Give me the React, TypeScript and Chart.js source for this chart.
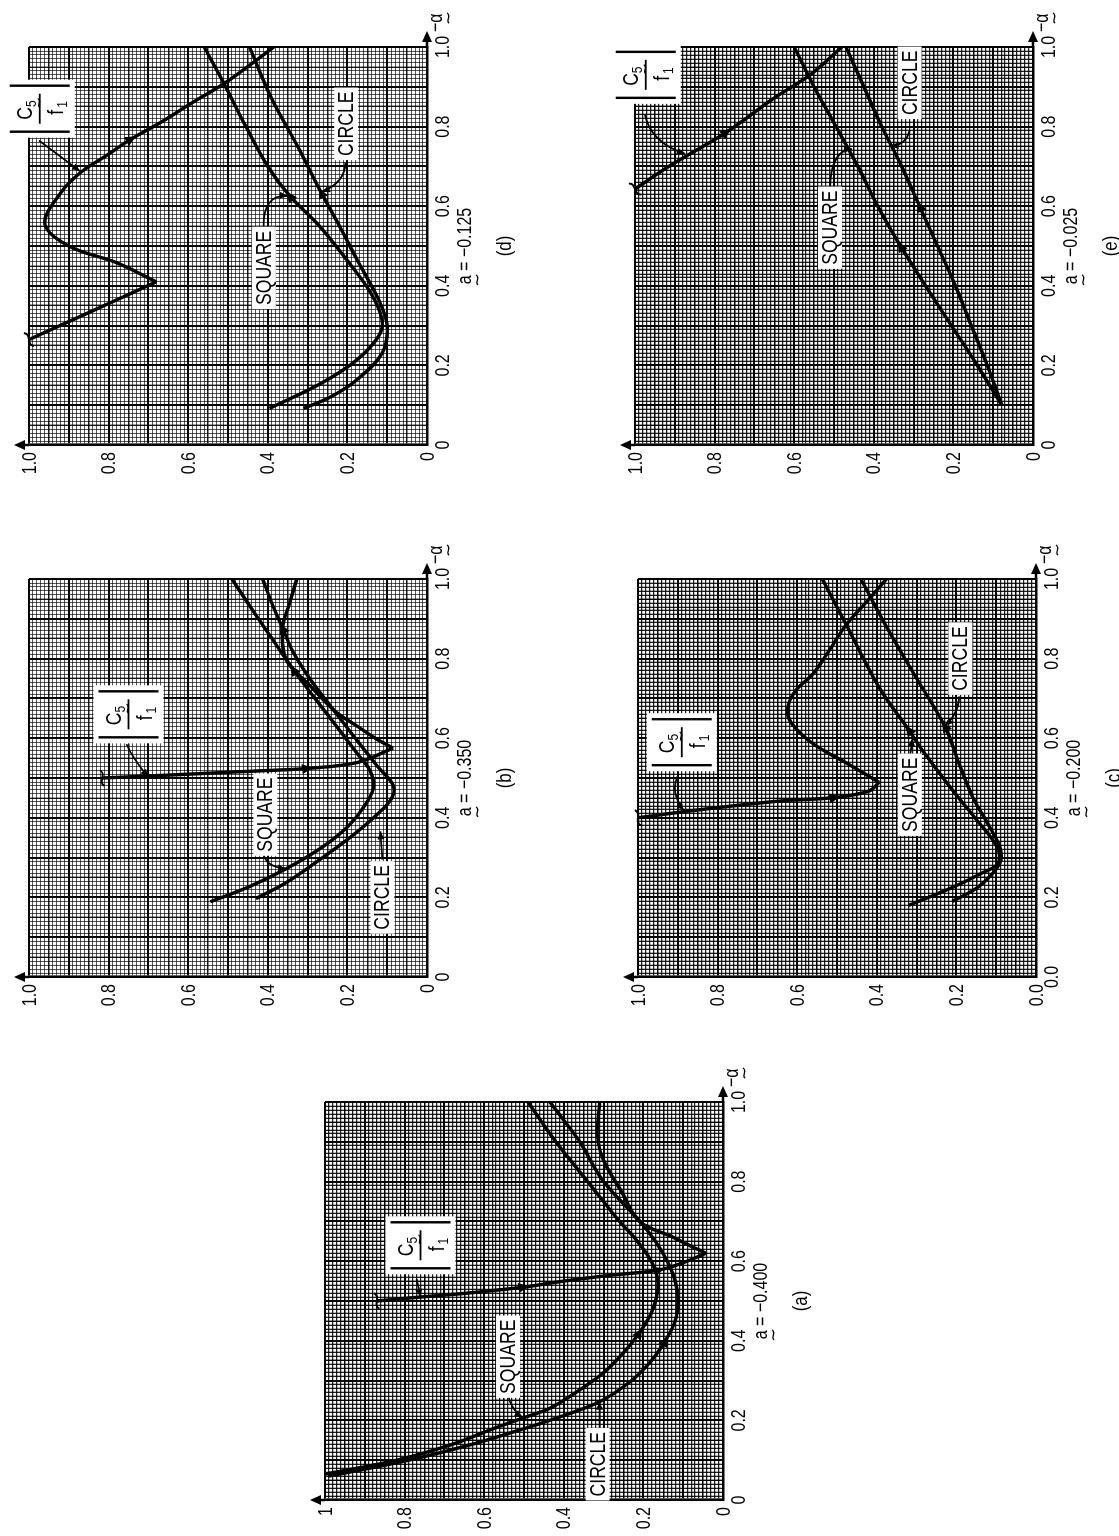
import React, { useEffect, useRef } from 'react';
import { Chart, registerables } from 'chart.js';

Chart.register(...registerables);

type Pt = [number, number]; // [alpha, value]

// ---------------- tick labels ----------------
const ALPHA_TICKS = ['0', '0.2', '0.4', '0.6', '0.8', '1.0'];
const ALPHA_TICKS_C = ['0.0', '0.2', '0.4', '0.6', '0.8', '1.0'];
const VALUE_TICKS = ['0', '0.2', '0.4', '0.6', '0.8', '1.0'];
const VALUE_TICKS_A = ['0', '0.2', '0.4', '0.6', '0.8', '1'];
const VALUE_TICKS_C = ['0.0', '0.2', '0.4', '0.6', '0.8', '1.0'];

// ---------------- panel (a)  a = -0.400 ----------------
const A_SQUARE: Pt[] = [[0.065, 1.0], [0.1, 0.82], [0.14, 0.68], [0.18, 0.575], [0.207, 0.5], [0.23, 0.436], [0.27, 0.37], [0.32, 0.3], [0.37, 0.25], [0.42, 0.21], [0.47, 0.18], [0.52, 0.165], [0.56, 0.165], [0.6, 0.18], [0.65, 0.215], [0.7, 0.26], [0.8, 0.34], [0.9, 0.42], [1.0, 0.49]];
const A_CIRCLE: Pt[] = [[0.06, 0.99], [0.1, 0.79], [0.14, 0.63], [0.17, 0.53], [0.2, 0.436], [0.247, 0.31], [0.3, 0.23], [0.35, 0.18], [0.4, 0.145], [0.45, 0.12], [0.5, 0.113], [0.55, 0.12], [0.6, 0.14], [0.65, 0.17], [0.705, 0.213], [0.8, 0.3], [0.9, 0.36], [0.967, 0.41], [1.0, 0.435]];
const A_C5_IN: Pt[] = [[0.5, 0.87], [0.51, 0.76], [0.52, 0.64], [0.535, 0.5], [0.55, 0.4], [0.565, 0.28], [0.578, 0.16], [0.6, 0.09], [0.62, 0.043]];
const A_C5_OUT: Pt[] = [[0.62, 0.043], [0.64, 0.085], [0.66, 0.125], [0.7, 0.21], [0.775, 0.255], [0.853, 0.3], [0.914, 0.315], [1.0, 0.31]];

// ---------------- panel (b)  a = -0.350 ----------------
const B_SQUARE: Pt[] = [[0.189, 0.544], [0.228, 0.444], [0.272, 0.354], [0.325, 0.265], [0.377, 0.2], [0.43, 0.157], [0.474, 0.135], [0.518, 0.143], [0.561, 0.175], [0.632, 0.229], [0.702, 0.283], [0.772, 0.336], [0.851, 0.39], [0.93, 0.444], [1.0, 0.49]];
const B_CIRCLE: Pt[] = [[0.197, 0.43], [0.237, 0.354], [0.298, 0.265], [0.351, 0.193], [0.404, 0.13], [0.447, 0.09], [0.482, 0.085], [0.53, 0.125], [0.605, 0.184], [0.675, 0.238], [0.746, 0.292], [0.816, 0.336], [0.877, 0.363], [0.94, 0.39], [1.0, 0.413]];
const B_C5_IN: Pt[] = [[0.5, 0.816], [0.505, 0.7], [0.512, 0.55], [0.518, 0.42], [0.524, 0.3], [0.539, 0.175], [0.575, 0.085]];
const B_C5_OUT: Pt[] = [[0.575, 0.085], [0.6, 0.13], [0.63, 0.175], [0.667, 0.23], [0.728, 0.29], [0.798, 0.354], [0.877, 0.363], [0.94, 0.345], [1.0, 0.327]];

// ---------------- panel (c)  a = -0.200 ----------------
const C_SQUARE: Pt[] = [[0.18, 0.32], [0.225, 0.21], [0.26, 0.138], [0.286, 0.095], [0.33, 0.1], [0.392, 0.147], [0.47, 0.21], [0.568, 0.284], [0.621, 0.32], [0.727, 0.394], [0.885, 0.477], [1.0, 0.537]];
const C_CIRCLE: Pt[] = [[0.19, 0.21], [0.225, 0.147], [0.265, 0.105], [0.295, 0.088], [0.33, 0.092], [0.383, 0.12], [0.454, 0.16], [0.54, 0.195], [0.63, 0.229], [0.75, 0.3], [0.87, 0.37], [1.0, 0.44]];
const C_C5_IN: Pt[] = [[0.4, 1.0], [0.416, 0.88], [0.432, 0.743], [0.443, 0.633], [0.451, 0.505], [0.467, 0.42], [0.489, 0.394]];
const C_C5_OUT: Pt[] = [[0.489, 0.394], [0.533, 0.468], [0.586, 0.56], [0.639, 0.615], [0.674, 0.624], [0.718, 0.605], [0.762, 0.56], [0.82, 0.52], [0.885, 0.477], [0.947, 0.422], [1.0, 0.376]];

// ---------------- panel (d)  a = -0.125 ----------------
const D_SQUARE: Pt[] = [[0.092, 0.396], [0.155, 0.266], [0.214, 0.176], [0.273, 0.122], [0.315, 0.113], [0.38, 0.14], [0.45, 0.19], [0.55, 0.27], [0.626, 0.345], [0.7, 0.4], [0.8, 0.455], [0.908, 0.51], [1.0, 0.56]];
const D_CIRCLE: Pt[] = [[0.092, 0.31], [0.122, 0.24], [0.164, 0.176], [0.23, 0.113], [0.3, 0.1], [0.366, 0.122], [0.466, 0.176], [0.55, 0.22], [0.634, 0.266], [0.75, 0.325], [0.87, 0.39], [1.0, 0.446]];
const D_C5_IN: Pt[] = [[0.265, 1.0], [0.31, 0.9], [0.36, 0.79], [0.41, 0.68]];
const D_C5_OUT: Pt[] = [[0.41, 0.68], [0.458, 0.78], [0.5, 0.9], [0.555, 0.96], [0.634, 0.92], [0.685, 0.87], [0.727, 0.806], [0.769, 0.743], [0.81, 0.67], [0.86, 0.59], [0.908, 0.51], [0.954, 0.446], [1.0, 0.385]];

// ---------------- panel (e)  a = -0.025 ----------------
const E_SQUARE: Pt[] = [[0.1, 0.078], [0.2, 0.14], [0.3, 0.205], [0.4, 0.27], [0.5, 0.333], [0.6, 0.39], [0.7, 0.44], [0.8, 0.495], [0.9, 0.55], [1.0, 0.6]];
const E_CIRCLE: Pt[] = [[0.1, 0.078], [0.2, 0.115], [0.3, 0.155], [0.4, 0.195], [0.5, 0.24], [0.6, 0.285], [0.7, 0.33], [0.8, 0.38], [0.9, 0.425], [1.0, 0.47]];
const E_C5: Pt[] = [[0.643, 1.0], [0.7, 0.915], [0.786, 0.77], [0.87, 0.653], [0.93, 0.56], [1.0, 0.48]];

// ---------------- captions ----------------
const A_VALUES = ['−0.400', '−0.350', '−0.200', '−0.125', '−0.025'];
const PANEL_TAGS = ['(a)', '(b)', '(c)', '(d)', '(e)'];

// ---------------- layout ----------------
const FONT = "'Liberation Sans', Arial, Helvetica, sans-serif";
const SX = 0.8; // horizontal compression, to mimic a condensed face
const PLOT = 398;
const PAD_L = 8;
const Y_W = 42;
const PAD_T = 36;
const PAD_R = 60;
const X_H = 100;
const CW = PAD_L + Y_W + PLOT + PAD_R;
const CH = PAD_T + PLOT + X_H;
const FINE_TICKS = Array.from({ length: 101 }, (_, i) => i / 100);

type Tone = 'light' | 'dark';
interface Box { kind: 'text' | 'c5'; text?: string; at: Pt }
interface Leader { pts: Pt[] }
interface Arrow { at: Pt; toward: Pt }
interface PanelCfg {
  id: string; left: number; top: number; caption: string; tag: string;
  alphaLabels: string[]; valueLabels: string[]; tone: Tone;
  curves: Pt[][]; breaks: Pt[][]; boxes: Box[]; leaders: Leader[]; arrows: Arrow[];
}

const PANELS: PanelCfg[] = [
  {
    id: 'a', left: 36, top: 325, caption: A_VALUES[0], tag: PANEL_TAGS[0],
    alphaLabels: ALPHA_TICKS, valueLabels: VALUE_TICKS_A, tone: 'dark',
    curves: [A_SQUARE, A_CIRCLE, A_C5_IN, A_C5_OUT],
    breaks: [[A_C5_IN[0], A_C5_IN[1]]],
    boxes: [
      { kind: 'c5', at: [0.64, 0.76] },
      { kind: 'text', text: 'SQUARE', at: [0.36, 0.54] },
      { kind: 'text', text: 'CIRCLE', at: [0.09, 0.315] },
    ],
    leaders: [
      { pts: [[0.555, 0.77], [0.51, 0.76]] },
      { pts: [[0.265, 0.54], [0.23, 0.535], [0.207, 0.504]] },
      { pts: [[0.18, 0.31], [0.247, 0.31]] },
    ],
    arrows: [
      { at: A_C5_IN[3], toward: A_C5_IN[4] },
      { at: A_C5_IN[6], toward: A_C5_IN[7] },
      { at: A_CIRCLE[8], toward: A_CIRCLE[9] },
      { at: A_SQUARE[9], toward: A_SQUARE[10] },
    ],
  },
  {
    id: 'b', left: 559, top: 29, caption: A_VALUES[1], tag: PANEL_TAGS[1],
    alphaLabels: ALPHA_TICKS, valueLabels: VALUE_TICKS, tone: 'light',
    curves: [B_SQUARE, B_CIRCLE, B_C5_IN, B_C5_OUT],
    breaks: [[B_C5_IN[0], B_C5_IN[1]]],
    boxes: [
      { kind: 'c5', at: [0.66, 0.75] },
      { kind: 'text', text: 'SQUARE', at: [0.408, 0.406] },
      { kind: 'text', text: 'CIRCLE', at: [0.2, 0.112] },
    ],
    leaders: [
      { pts: [[0.585, 0.755], [0.55, 0.74], [0.502, 0.7]] },
      { pts: [[0.312, 0.41], [0.278, 0.41], [0.272, 0.354]] },
      { pts: [[0.295, 0.112], [0.366, 0.117]] },
    ],
    arrows: [
      { at: B_C5_IN[4], toward: B_C5_IN[5] },
      { at: B_CIRCLE[12], toward: B_CIRCLE[13] },
      { at: B_SQUARE[11], toward: B_SQUARE[12] },
    ],
  },
  {
    id: 'c', left: 559, top: 638, caption: A_VALUES[2], tag: PANEL_TAGS[2],
    alphaLabels: ALPHA_TICKS_C, valueLabels: VALUE_TICKS_C, tone: 'dark',
    curves: [C_SQUARE, C_CIRCLE, C_C5_IN, C_C5_OUT],
    breaks: [[C_C5_IN[0], C_C5_IN[1]]],
    boxes: [
      { kind: 'c5', at: [0.59, 0.89] },
      { kind: 'text', text: 'SQUARE', at: [0.458, 0.317] },
      { kind: 'text', text: 'CIRCLE', at: [0.8, 0.19] },
    ],
    leaders: [
      { pts: [[0.505, 0.9], [0.465, 0.92], [0.418, 0.885]] },
      { pts: [[0.553, 0.317], [0.6, 0.31]] },
      { pts: [[0.705, 0.193], [0.66, 0.195], [0.632, 0.229]] },
    ],
    arrows: [
      { at: C_C5_IN[4], toward: C_C5_IN[5] },
      { at: C_SQUARE[8], toward: C_SQUARE[9] },
      { at: C_CIRCLE[8], toward: C_CIRCLE[9] },
    ],
  },
  {
    id: 'd', left: 1091, top: 29, caption: A_VALUES[3], tag: PANEL_TAGS[3],
    alphaLabels: ALPHA_TICKS, valueLabels: VALUE_TICKS, tone: 'light',
    curves: [D_SQUARE, D_CIRCLE, D_C5_IN, D_C5_OUT],
    breaks: [[D_C5_IN[0], D_C5_IN[1]]],
    boxes: [
      { kind: 'c5', at: [0.845, 0.973] },
      { kind: 'text', text: 'SQUARE', at: [0.445, 0.41] },
      { kind: 'text', text: 'CIRCLE', at: [0.807, 0.203] },
    ],
    leaders: [
      { pts: [[0.765, 0.975], [0.688, 0.872]] },
      { pts: [[0.54, 0.41], [0.63, 0.415], [0.626, 0.35]] },
      { pts: [[0.71, 0.205], [0.66, 0.205], [0.636, 0.264]] },
    ],
    arrows: [
      { at: D_C5_OUT[7], toward: D_C5_OUT[8] },
      { at: D_SQUARE[8], toward: D_SQUARE[9] },
      { at: D_CIRCLE[8], toward: D_CIRCLE[9] },
    ],
  },
  {
    id: 'e', left: 1091, top: 635, caption: A_VALUES[4], tag: PANEL_TAGS[4],
    alphaLabels: ALPHA_TICKS, valueLabels: VALUE_TICKS, tone: 'dark',
    curves: [E_SQUARE, E_CIRCLE, E_C5],
    breaks: [[E_C5[0], E_C5[1]]],
    boxes: [
      { kind: 'c5', at: [0.93, 0.973] },
      { kind: 'text', text: 'SQUARE', at: [0.546, 0.51] },
      { kind: 'text', text: 'CIRCLE', at: [0.91, 0.31] },
    ],
    leaders: [
      { pts: [[0.83, 0.975], [0.76, 0.96], [0.732, 0.875]] },
      { pts: [[0.64, 0.51], [0.74, 0.51], [0.744, 0.455]] },
      { pts: [[0.79, 0.31], [0.752, 0.32], [0.752, 0.358]] },
    ],
    arrows: [
      { at: E_C5[2], toward: E_C5[3] },
      { at: E_SQUARE[4], toward: E_SQUARE[5] },
      { at: E_CIRCLE[5], toward: E_CIRCLE[6] },
    ],
  },
];

// ---------------- drawing helpers ----------------
function gridColor(v: number, tone: Tone) {
  const i = Math.round((v ?? 0) * 100);
  if (i % 10 === 0) return '#000';
  if (i % 5 === 0) return tone === 'dark' ? '#000' : 'rgba(0,0,0,0.9)';
  return tone === 'dark' ? 'rgba(0,0,0,0.88)' : 'rgba(0,0,0,0.66)';
}
function gridWidth(v: number, tone: Tone) {
  const i = Math.round((v ?? 0) * 100);
  if (i % 10 === 0) return 2;
  if (i % 5 === 0) return 1.4;
  return tone === 'dark' ? 1.3 : 1.05;
}

// condensed text: measured in the normal face, drawn squeezed horizontally
function ctext(
  ctx: CanvasRenderingContext2D, s: string, x: number, y: number, size: number,
  align: 'left' | 'center' | 'right', baseline: CanvasTextBaseline,
) {
  ctx.save();
  ctx.font = `${size}px ${FONT}`;
  ctx.textAlign = 'left';
  ctx.textBaseline = baseline;
  const w = ctx.measureText(s).width * SX;
  const x0 = align === 'center' ? x - w / 2 : align === 'right' ? x - w : x;
  ctx.translate(x0, y);
  ctx.scale(SX, 1);
  ctx.fillText(s, 0, 0);
  ctx.restore();
  return { x0, w };
}
function cwidth(ctx: CanvasRenderingContext2D, s: string, size: number) {
  ctx.save();
  ctx.font = `${size}px ${FONT}`;
  const w = ctx.measureText(s).width * SX;
  ctx.restore();
  return w;
}

function arrowAt(ctx: CanvasRenderingContext2D, x: number, y: number, ang: number, len = 10, w = 4.5, tip = false) {
  ctx.save();
  ctx.translate(x, y);
  ctx.rotate(ang);
  const off = tip ? 0 : len / 2;
  ctx.beginPath();
  ctx.moveTo(off, 0);
  ctx.lineTo(off - len, -w);
  ctx.lineTo(off - len, w);
  ctx.closePath();
  ctx.fill();
  ctx.restore();
}

function tilde(ctx: CanvasRenderingContext2D, cx: number, cy: number, w: number) {
  ctx.save();
  ctx.lineWidth = 1.3;
  ctx.beginPath();
  ctx.moveTo(cx - w / 2, cy + 1);
  ctx.bezierCurveTo(cx - w / 5, cy - 3, cx + w / 5, cy + 4, cx + w / 2, cy - 1);
  ctx.stroke();
  ctx.restore();
}

function makeDecor(cfg: PanelCfg) {
  return {
    id: 'decor_' + cfg.id,
    afterDatasetsDraw(chart: any) {
      const { ctx, chartArea: ca, scales } = chart;
      const X = (a: number) => scales.x.getPixelForValue(a);
      const Y = (v: number) => scales.y.getPixelForValue(v);
      ctx.save();
      ctx.fillStyle = '#000';
      ctx.strokeStyle = '#000';

      // tick labels (condensed), placed through the scales
      cfg.alphaLabels.forEach((t, k) => ctext(ctx, t, X(k * 0.2), ca.bottom + 6, 20, 'center', 'top'));
      cfg.valueLabels.forEach((t, k) => ctext(ctx, t, ca.left - 7, Y(k * 0.2) + 1, 20, 'right', 'middle'));

      // break marks at C5 entry
      for (const [p, q] of cfg.breaks) {
        const ang = Math.atan2(Y(q[1]) - Y(p[1]), X(q[0]) - X(p[0]));
        ctx.save();
        ctx.translate(X(p[0]), Y(p[1]));
        ctx.rotate(ang);
        ctx.lineWidth = 2;
        ctx.beginPath();
        ctx.moveTo(-2, -8);
        ctx.bezierCurveTo(5, -4, -5, 4, 2, 8);
        ctx.stroke();
        ctx.restore();
      }

      // direction arrows on curves
      for (const a of cfg.arrows) {
        const ang = Math.atan2(Y(a.toward[1]) - Y(a.at[1]), X(a.toward[0]) - X(a.at[0]));
        arrowAt(ctx, X(a.at[0]), Y(a.at[1]), ang, 11, 5);
      }

      // leader lines
      ctx.lineWidth = 1.8;
      for (const l of cfg.leaders) {
        const p = l.pts.map(([a, v]) => [X(a), Y(v)]);
        ctx.beginPath();
        ctx.moveTo(p[0][0], p[0][1]);
        if (p.length === 3) ctx.quadraticCurveTo(p[1][0], p[1][1], p[2][0], p[2][1]);
        else ctx.lineTo(p[1][0], p[1][1]);
        ctx.stroke();
        const e = p[p.length - 1];
        const s = p[p.length - 2];
        arrowAt(ctx, e[0], e[1], Math.atan2(e[1] - s[1], e[0] - s[0]), 8, 3.5, true);
      }

      // label boxes
      for (const b of cfg.boxes) {
        const cx = X(b.at[0]);
        const cy = Y(b.at[1]);
        if (b.kind === 'text') {
          const tw = cwidth(ctx, b.text!, 22);
          const w = tw + 8;
          const h = 24;
          ctx.fillStyle = '#fff';
          ctx.fillRect(cx - w / 2, cy - h / 2, w, h);
          ctx.fillStyle = '#000';
          ctext(ctx, b.text!, cx, cy + 1, 22, 'center', 'middle');
        } else {
          const w = 58;
          const h = 70;
          ctx.fillStyle = '#fff';
          ctx.fillRect(cx - w / 2, cy - h / 2, w, h);
          ctx.fillStyle = '#000';
          ctx.lineWidth = 2.4;
          ctx.beginPath();
          ctx.moveTo(cx - w / 2 + 6, cy - h / 2 + 5);
          ctx.lineTo(cx - w / 2 + 6, cy + h / 2 - 5);
          ctx.moveTo(cx + w / 2 - 6, cy - h / 2 + 5);
          ctx.lineTo(cx + w / 2 - 6, cy + h / 2 - 5);
          ctx.stroke();
          ctx.lineWidth = 1.8;
          ctx.beginPath();
          ctx.moveTo(cx - 15, cy);
          ctx.lineTo(cx + 15, cy);
          ctx.stroke();
          const c = ctext(ctx, 'C', cx - 11, cy - 8, 22, 'left', 'alphabetic');
          ctext(ctx, '5', c.x0 + c.w, cy - 4, 15, 'left', 'alphabetic');
          tilde(ctx, c.x0 + c.w + 4, cy - 1, 9);
          const f = ctext(ctx, 'f', cx - 6, cy + 23, 22, 'left', 'alphabetic');
          ctext(ctx, '1', f.x0 + f.w + 2, cy + 27, 15, 'left', 'alphabetic');
        }
      }

      // axis arrows
      ctx.lineWidth = 2.5;
      ctx.beginPath();
      ctx.moveTo(ca.left, ca.top);
      ctx.lineTo(ca.left, ca.top - 8);
      ctx.moveTo(ca.right, ca.bottom);
      ctx.lineTo(ca.right + 8, ca.bottom);
      ctx.stroke();
      arrowAt(ctx, ca.left, ca.top - 15, -Math.PI / 2, 11, 5, true);
      arrowAt(ctx, ca.right + 16, ca.bottom, 0, 11, 5, true);

      // -alpha label
      const m = ctext(ctx, '−', ca.right + 15, ca.bottom + 15, 20, 'left', 'alphabetic');
      const al = ctext(ctx, 'α', m.x0 + m.w, ca.bottom + 15, 20, 'left', 'alphabetic');
      tilde(ctx, al.x0 + al.w / 2, ca.bottom + 21, al.w + 1);

      // caption
      const mid = (ca.left + ca.right) / 2;
      const capText = `a = ${cfg.caption}`;
      const cap = ctext(ctx, capText, mid, ca.bottom + 44, 20, 'center', 'alphabetic');
      const aW = cwidth(ctx, 'a', 20);
      tilde(ctx, cap.x0 + aW / 2, ca.bottom + 50, aW + 1);
      ctext(ctx, cfg.tag, mid, ca.bottom + 84, 21, 'center', 'alphabetic');
      ctx.restore();
    },
  };
}

function axisOptions(labels: string[], tone: Tone, isX: boolean) {
  return {
    type: 'linear',
    min: 0,
    max: 1,
    afterBuildTicks: (s: any) => {
      s.ticks = FINE_TICKS.map((v) => ({ value: v }));
    },
    afterFit: (s: any) => {
      if (isX) s.height = X_H;
      else s.width = Y_W;
    },
    ticks: {
      display: false,
      autoSkip: false,
      callback: (_v: any, i: number) => (i % 20 === 0 ? labels[i / 20] : ''),
    },
    grid: {
      drawTicks: false,
      color: (c: any) => gridColor(c.tick ? c.tick.value : 0, tone),
      lineWidth: (c: any) => gridWidth(c.tick ? c.tick.value : 0, tone),
    },
    border: { display: true, color: '#000', width: 2.6 },
  };
}

function Panel({ cfg }: { cfg: PanelCfg }) {
  const ref = useRef<HTMLCanvasElement>(null);
  useEffect(() => {
    const chart = new Chart(ref.current as HTMLCanvasElement, {
      type: 'scatter',
      data: {
        datasets: cfg.curves.map((c) => ({
          data: c.map(([a, v]) => ({ x: a, y: v })),
          showLine: true,
          borderColor: '#000',
          borderWidth: 3.4,
          pointRadius: 0,
          tension: 0.35,
          fill: false,
        })),
      },
      options: {
        animation: false,
        responsive: false,
        maintainAspectRatio: false,
        devicePixelRatio: 1,
        events: [],
        layout: { padding: { left: PAD_L, top: PAD_T, right: PAD_R, bottom: 0 } },
        plugins: { legend: { display: false }, tooltip: { enabled: false } },
        scales: {
          x: axisOptions(cfg.alphaLabels, cfg.tone, true) as any,
          y: axisOptions(cfg.valueLabels, cfg.tone, false) as any,
        },
      },
      plugins: [makeDecor(cfg)],
    });
    return () => chart.destroy();
  }, [cfg]);
  return (
    <canvas
      ref={ref}
      width={CW}
      height={CH}
      style={{ position: 'absolute', left: cfg.left - PAD_L - Y_W, top: cfg.top - PAD_T, width: CW, height: CH }}
    />
  );
}

export default function App() {
  return (
    <div
      style={{
        position: 'fixed',
        left: 0,
        top: 0,
        width: 1536,
        height: 1119,
        background: '#fff',
        transformOrigin: '0 0',
        transform: 'translate(0px, 1536px) rotate(-90deg)',
      }}
    >
      {PANELS.map((p) => (
        <Panel key={p.id} cfg={p} />
      ))}
    </div>
  );
}
